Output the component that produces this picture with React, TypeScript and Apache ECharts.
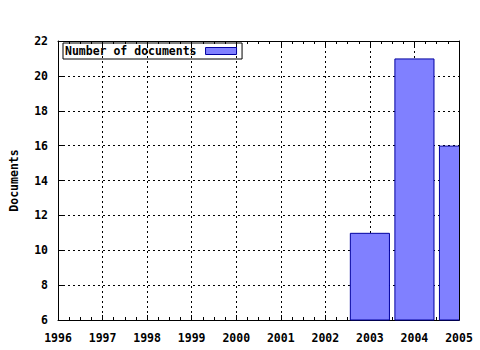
import React, { useEffect, useRef } from "react";
import * as echarts from "echarts";

const years = [2003, 2004, 2005];
const documents = [11, 21, 16];
const seriesName = "Number of documents";
const yAxisTitle = "Documents";

const FONT = "'DejaVu Sans Mono', monospace";

export default function App() {
  const ref = useRef<HTMLDivElement>(null);
  useEffect(() => {
    if (!ref.current) return;
    const chart = echarts.init(ref.current, null, { renderer: "svg" });
    const dotted = { color: "#000", width: 1, type: [2, 3] as number[] };
    const baseX = {
      type: "value" as const,
      min: 1996,
      max: 2005,
      interval: 1,
      axisLine: { show: true, lineStyle: { color: "#000", width: 1 } },
      axisTick: { show: true, inside: true, length: 5, lineStyle: { color: "#000" } },
      minorTick: { show: true, splitNumber: 4, length: 3, lineStyle: { color: "#000" } },
    };
    chart.setOption({
      animation: false,
      backgroundColor: "#fff",
      textStyle: { fontFamily: FONT },
      grid: { left: 56, right: 21, top: 41, bottom: 30, containLabel: false },
      legend: {
        show: true,
        left: 63,
        top: 43,
        align: "right",
        orient: "horizontal",
        itemWidth: 31,
        itemHeight: 7,
        padding: [2, 5, 2, 2],
        borderColor: "#000",
        borderWidth: 1,
        borderRadius: 0,
        icon: "rect",
        textStyle: { fontFamily: FONT, fontWeight: "bold", fontSize: 11.5, color: "#000", padding: [0, 4, 0, 0] },
        data: [{ name: seriesName, itemStyle: { color: "#8080ff", borderColor: "#0000a0", borderWidth: 1 } }],
      },
      graphic: [
        {
          type: "rect",
          z: 100,
          shape: { x: 460, y: 30, width: 20, height: 295 },
          style: { fill: "#fff" },
        },
      ],
      xAxis: [
        {
          ...baseX,
          position: "bottom",
          axisLabel: {
            show: true,
            margin: 12,
            formatter: (v: number) => String(v),
            fontFamily: FONT,
            fontWeight: "bold",
            fontSize: 11.5,
            color: "#000",
          },
          splitLine: { show: true, lineStyle: dotted },
        },
        {
          ...baseX,
          position: "top",
          axisLabel: { show: false },
          splitLine: { show: false },
        },
      ],
      yAxis: [
        {
          type: "value",
          min: 6,
          max: 22,
          interval: 2,
          position: "left",
          name: yAxisTitle,
          nameLocation: "middle",
          nameGap: 38,
          nameTextStyle: { fontFamily: FONT, fontWeight: "bold", fontSize: 11.5, color: "#000" },
          axisLine: { show: true, lineStyle: { color: "#000", width: 1 } },
          axisTick: { show: true, inside: true, length: 5, lineStyle: { color: "#000" } },
          axisLabel: { show: true, margin: 10, fontFamily: FONT, fontWeight: "bold", fontSize: 11.5, color: "#000" },
          splitLine: { show: true, lineStyle: dotted },
        },
        {
          type: "value",
          min: 6,
          max: 22,
          interval: 2,
          position: "right",
          axisLine: { show: true, lineStyle: { color: "#000", width: 1 } },
          axisTick: { show: false },
          axisLabel: { show: false },
          splitLine: { show: false },
          z: 101,
        },
      ],
      series: [
        {
          name: seriesName,
          type: "bar",
          xAxisIndex: 0,
          yAxisIndex: 0,
          barWidth: "90%",
          clip: true,
          itemStyle: { color: "#8080ff", borderColor: "#0000a0", borderWidth: 1 },
          data: years.map((y, i) => [y, documents[i]]),
        },
      ],
    });
    return () => chart.dispose();
  }, []);
  return (
    <div
      ref={ref}
      style={{ position: "fixed", left: 0, top: 0, width: 480, height: 350, background: "#fff" }}
    />
  );
}
